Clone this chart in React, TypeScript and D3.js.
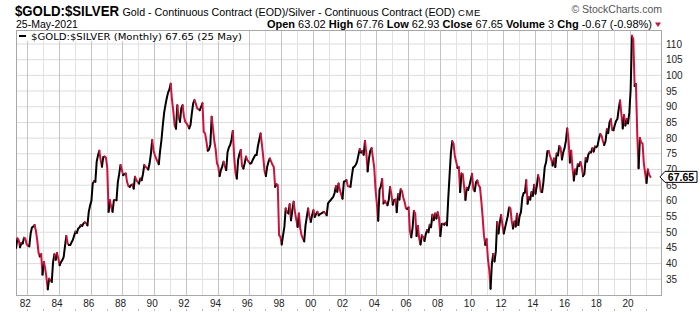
import React from "react";
import * as d3 from "d3";

// ---- data (monthly closes of the Gold/Silver ratio) ----
const startYear = 1981;
const startMonth = 5; // first monthly close: May 1981

const ratio1981to1985 = [
  45, 48, 47.5, 45.2, 46.6, 46.4, 48.2, 48,
  46.2, 45.7, 45.5, 49.5, 51.5, 51.8, 52.3, 50.5, 47.5, 43.5, 42.3, 43,
  36.5, 40.5, 38.5, 35.5, 31.8, 35.2, 34.8, 34.2, 40.5, 43, 41.2, 43.4,
  41.5, 39.5, 40.5, 41.1, 42.1, 45.5, 48.8, 46.5, 45.9, 45.9, 46.8, 47.6,
  49, 50.2, 49.8, 51.2, 51.5, 52.3, 52, 52.8, 53.2, 52.9, 52.2, 56.5,
];
const ratio1986to1990 = [
  58.5, 60, 65.5, 66.3, 66.1, 72.5, 74.5, 76, 73, 70.9, 74, 74.1,
  73.8, 70.5, 56.5, 60.2, 58, 56.5, 60.2, 60.3, 60.2, 66, 68.5, 71.4,
  70, 68.2, 68.5, 68.7, 66, 64.7, 64.5, 65, 65.2, 63.9, 67.7, 66.6,
  66, 65.5, 67.1, 66.6, 68.5, 71.4, 70.9, 70.5, 70, 71.9, 75, 79.4,
  76, 74.6, 73.5, 72.5, 71.7, 76, 79.4, 84, 88, 90.5, 92.7, 94.5,
];
const ratio1991to1995 = [
  95.5, 97.3, 92, 88.5, 84, 83, 90.5, 86.5, 85.2, 89.5, 90.5, 87,
  85.2, 84.7, 84, 83.1, 84.2, 88, 91.1, 92.1, 91, 89.5, 89.2, 88.9,
  90, 91.1, 82, 81.5, 79, 76, 76.4, 78, 86.8, 83, 79, 76.5,
  72, 70.9, 67.9, 69.8, 71, 72.5, 71, 69.8, 75.5, 77, 77.8, 79.5,
  82.3, 74.1, 69, 67.1, 73, 75, 76.2, 71, 70.3, 72, 74.1, 73,
];
const ratio1996to2000 = [
  72.5, 71.9, 72, 73, 73.8, 74.6, 74.6, 77.5, 79.5, 81.5, 78, 74.1,
  69.5, 67.9, 70.9, 72.5, 73.5, 72.5, 71.5, 70.8, 64.5, 65.3, 65, 49.1,
  48.5, 46.1, 49, 51.7, 57.6, 56.5, 56, 58.9, 53.8, 57, 59.7, 56.5,
  54, 51.7, 56, 51.2, 49.1, 48, 47.1, 52.2, 55, 57.6, 54.9, 53.3,
  55.5, 57, 54.9, 55.8, 56.5, 55.4, 55.8, 56, 56.3, 56.5, 56, 55.4,
];
const ratio2001to2005 = [
  59.2, 59.8, 60.2, 60.8, 61.3, 62.5, 64.7, 62.9, 65.5, 63.5, 62, 60.7,
  66.1, 66.3, 66.6, 64.7, 64.6, 64.5, 67.7, 70.6, 70.9, 71.5, 72.5, 74.5,
  76.5, 75.4, 75.9, 74.7, 79.1, 75.2, 69.4, 73.5, 76, 76.8, 73.7, 70.5,
  63.5, 59, 53.7, 63.6, 64.6, 67, 59.2, 60, 59.3, 58.6, 60.4, 64.4,
  62, 58.8, 60.3, 60.4, 56.4, 62.1, 60.4, 63.7, 63.1, 61, 59.6, 57.6,
];
const ratio2006to2010 = [
  57.4, 57.9, 50.2, 48.4, 51.4, 56.8, 56, 48.8, 52, 48, 46.1, 49,
  48.5, 47.2, 49.4, 50.7, 50, 52.4, 51.6, 55.6, 53.8, 56, 54.4, 56.4,
  54.6, 48.8, 52.6, 52.7, 52.4, 53, 52.2, 60.8, 68.2, 75.3, 79, 78.2,
  74.2, 72.5, 70.5, 70.7, 62.8, 68.7, 68.5, 64.5, 60.3, 64.2, 63.5, 64.9,
  66.7, 68.6, 63.7, 63.1, 66, 66.5, 65, 64.3, 60, 54.9, 49, 46,
];
const ratio2011to2015 = [
  47.8, 41.6, 38, 32, 40, 43.1, 40.7, 43.9, 53.3, 49.6, 53.2, 55.5,
  52.3, 49.6, 51.5, 53.3, 55.1, 57.9, 57.7, 53.6, 51.2, 53.4, 51.8, 55.9,
  52.3, 55.2, 56.4, 61, 62.5, 62.6, 66.6, 59.1, 61.2, 60.4, 62.8, 61.6,
  65.1, 62.3, 64.8, 68.2, 66.6, 62.9, 62.8, 66, 70.8, 72.3, 75.8, 75.9,
  74.3, 73.1, 71.3, 73.5, 70.8, 75.1, 74.5, 77.5, 76.9, 73.2, 75.5, 76.8,
];
const ratio2016to2021 = [
  79.1, 83.1, 79.5, 72.2, 76, 70.6, 66.5, 70, 68.5, 71.7, 71.1, 72.4,
  70.8, 67.9, 68.6, 73.7, 72.5, 74.8, 75.5, 75.4, 76.8, 75.7, 77.3, 77.1,
  77.6, 79.9, 81.3, 80.7, 79.1, 77.8, 79, 82.8, 81.6, 85, 86, 82.6,
  82.5, 84.2, 85.5, 86.1, 89.4, 92, 87.6, 83.1, 87.4, 84, 86.1, 84.7,
  88.2, 95.5, 112.6, 111.5, 96.6, 97.2, 81, 70.4, 80, 78.6, 78.3, 71.8,
  68.8, 65.7, 70, 68.32, 67.65,
];

const yTicks = [35, 40, 45, 50, 55, 60, 65, 70, 75, 80, 85, 90, 95, 100, 105, 110];
const xLabelYears = [1982, 1984, 1986, 1988, 1990, 1992, 1994, 1996, 1998, 2000, 2002, 2004, 2006, 2008, 2010, 2012, 2014, 2016, 2018, 2020];
const xLabels = ["82", "84", "86", "88", "90", "92", "94", "96", "98", "00", "02", "04", "06", "08", "10", "12", "14", "16", "18", "20"];

const ohlcLabels = ["Open", "High", "Low", "Close", "Volume", "Chg"];
const ohlcValues = ["63.02", "67.76", "62.93", "67.65", "3", "-0.67 (-0.98%)"];
const lastValue = 67.65;

const FONT = "'Liberation Sans', Arial, Helvetica, sans-serif";
const RED = "#d0103a";

type P = { t: number; v: number };

export default function App() {
  const W = 700;
  const H = 312;
  const plot = { left: 16, top: 30, right: 662, bottom: 296 };

  const values = [
    ...ratio1981to1985,
    ...ratio1986to1990,
    ...ratio1991to1995,
    ...ratio1996to2000,
    ...ratio2001to2005,
    ...ratio2006to2010,
    ...ratio2011to2015,
    ...ratio2016to2021,
  ];
  const pts: P[] = values.map((v, i) => ({
    t: startYear + (startMonth - 1 + i - 0.5) / 12,
    v,
  }));

  const x = d3.scaleLinear().domain([1982, 2020]).range([27.3, 630]);
  const y = d3.scaleLinear().domain([35, 110]).range([279.3, 44]);

  // runs of same colour: black for up months, red for down months
  const runs: { color: string; pts: P[] }[] = [];
  for (let i = 1; i < pts.length; i++) {
    const color = pts[i].v >= pts[i - 1].v ? "#000" : RED;
    const last = runs[runs.length - 1];
    if (last && last.color === color) last.pts.push(pts[i]);
    else runs.push({ color, pts: [pts[i - 1], pts[i]] });
  }
  const line = d3
    .line<P>()
    .x((d) => x(d.t))
    .y((d) => y(d.v));

  const years = d3.range(1982, 2022);
  const yLast = y(lastValue);

  return (
    <svg
      width={W}
      height={H}
      viewBox={`0 0 ${W} ${H}`}
      style={{ position: "absolute", left: 0, top: 0, background: "#fff" }}
      fontFamily={FONT}
    >
      <rect x={0} y={0} width={W} height={H} fill="#fff" />
      <defs>
        <clipPath id="plotClip">
          <rect x={plot.left} y={plot.top} width={plot.right - plot.left} height={plot.bottom - plot.top} />
        </clipPath>
      </defs>

      {/* header */}
      <text x={15} y={16} fontSize={14.5} fontWeight="bold" fill="#000" textLength={104} lengthAdjust="spacingAndGlyphs">
        $GOLD:$SILVER
      </text>
      <text x={122.5} y={16} fontSize={10.7} fill="#000">
        Gold - Continuous Contract (EOD)/Silver - Continuous Contract (EOD)
      </text>
      <text x={458} y={16} fontSize={9.5} fill="#000" letterSpacing={0.6}>
        CME
      </text>
      <text x={662} y={13} fontSize={10.5} fill="#555" textAnchor="end">
        © StockCharts.com
      </text>
      <text x={16} y={28} fontSize={10.5} fill="#000">
        25-May-2021
      </text>
      <text x={652} y={28} fontSize={11} fill="#000" textAnchor="end">
        {ohlcLabels.map((l, i) => (
          <React.Fragment key={l}>
            <tspan fontWeight="bold">{(i > 0 ? "  " : "") + l}</tspan>
            <tspan>{" " + ohlcValues[i]}</tspan>
          </React.Fragment>
        ))}
      </text>
      <polygon points="655,22.5 661,22.5 658,27" fill={RED} />

      {/* grid */}
      {yTicks.map((v) => (
        <line key={"h" + v} x1={plot.left} x2={plot.right} y1={y(v)} y2={y(v)} stroke="#dcdcdc" strokeWidth={1} />
      ))}
      {years.map((yr) => (
        <line
          key={"v" + yr}
          x1={Math.round(x(yr)) + 0.5}
          x2={Math.round(x(yr)) + 0.5}
          y1={plot.top}
          y2={plot.bottom}
          stroke={yr % 2 === 0 ? "#c4c4c4" : "#e2e2e2"}
          strokeWidth={1}
        />
      ))}
      <rect
        x={plot.left + 0.5}
        y={plot.top + 0.5}
        width={plot.right - plot.left - 1}
        height={plot.bottom - plot.top - 1}
        fill="none"
        stroke="#a8a8a8"
        strokeWidth={1}
      />

      {/* series */}
      <g clipPath="url(#plotClip)">
        {runs.map((r, i) => (
          <path
            key={i}
            d={line(r.pts) || ""}
            fill="none"
            stroke={r.color}
            strokeWidth={2}
            strokeLinejoin="round"
            strokeLinecap="round"
          />
        ))}
      </g>

      {/* legend */}
      <rect x={plot.left + 1} y={plot.top + 1} width={229} height={10} fill="#fff" />
      <line x1={19} x2={26} y1={36} y2={36} stroke="#000" strokeWidth={2} />
      <text x={31} y={39.5} fontSize={9.5} fontFamily="'DejaVu Sans', Verdana, sans-serif" fill="#000" textLength={211} lengthAdjust="spacingAndGlyphs">
        $GOLD:$SILVER (Monthly) 67.65 (25 May)
      </text>

      {/* y axis labels */}
      {yTicks.map((v) => (
        <text key={"yl" + v} x={666} y={y(v) + 3.5} fontSize={10} fill="#222">
          {v}
        </text>
      ))}

      {/* last value tag */}
      <polygon
        points={`${660},${yLast} ${665},${yLast - 5.5} ${697},${yLast - 5.5} ${697},${yLast + 5.5} ${665},${yLast + 5.5}`}
        fill="#fff"
        stroke="#000"
        strokeWidth={1}
      />
      <text x={681} y={yLast + 4} fontSize={10.5} fontWeight="bold" textAnchor="middle" fill="#000">
        {lastValue.toFixed(2)}
      </text>

      {/* x axis labels */}
      {xLabelYears.map((yr, i) => (
        <text key={"xl" + yr} x={x(yr) - 2} y={307} fontSize={10} textAnchor="middle" fill="#222">
          {xLabels[i]}
        </text>
      ))}
      {years.map((yr) => (
        <line key={"t" + yr} x1={Math.round(x(yr)) + 0.5} x2={Math.round(x(yr)) + 0.5} y1={309} y2={311} stroke="#bbb" strokeWidth={1} />
      ))}
    </svg>
  );
}
